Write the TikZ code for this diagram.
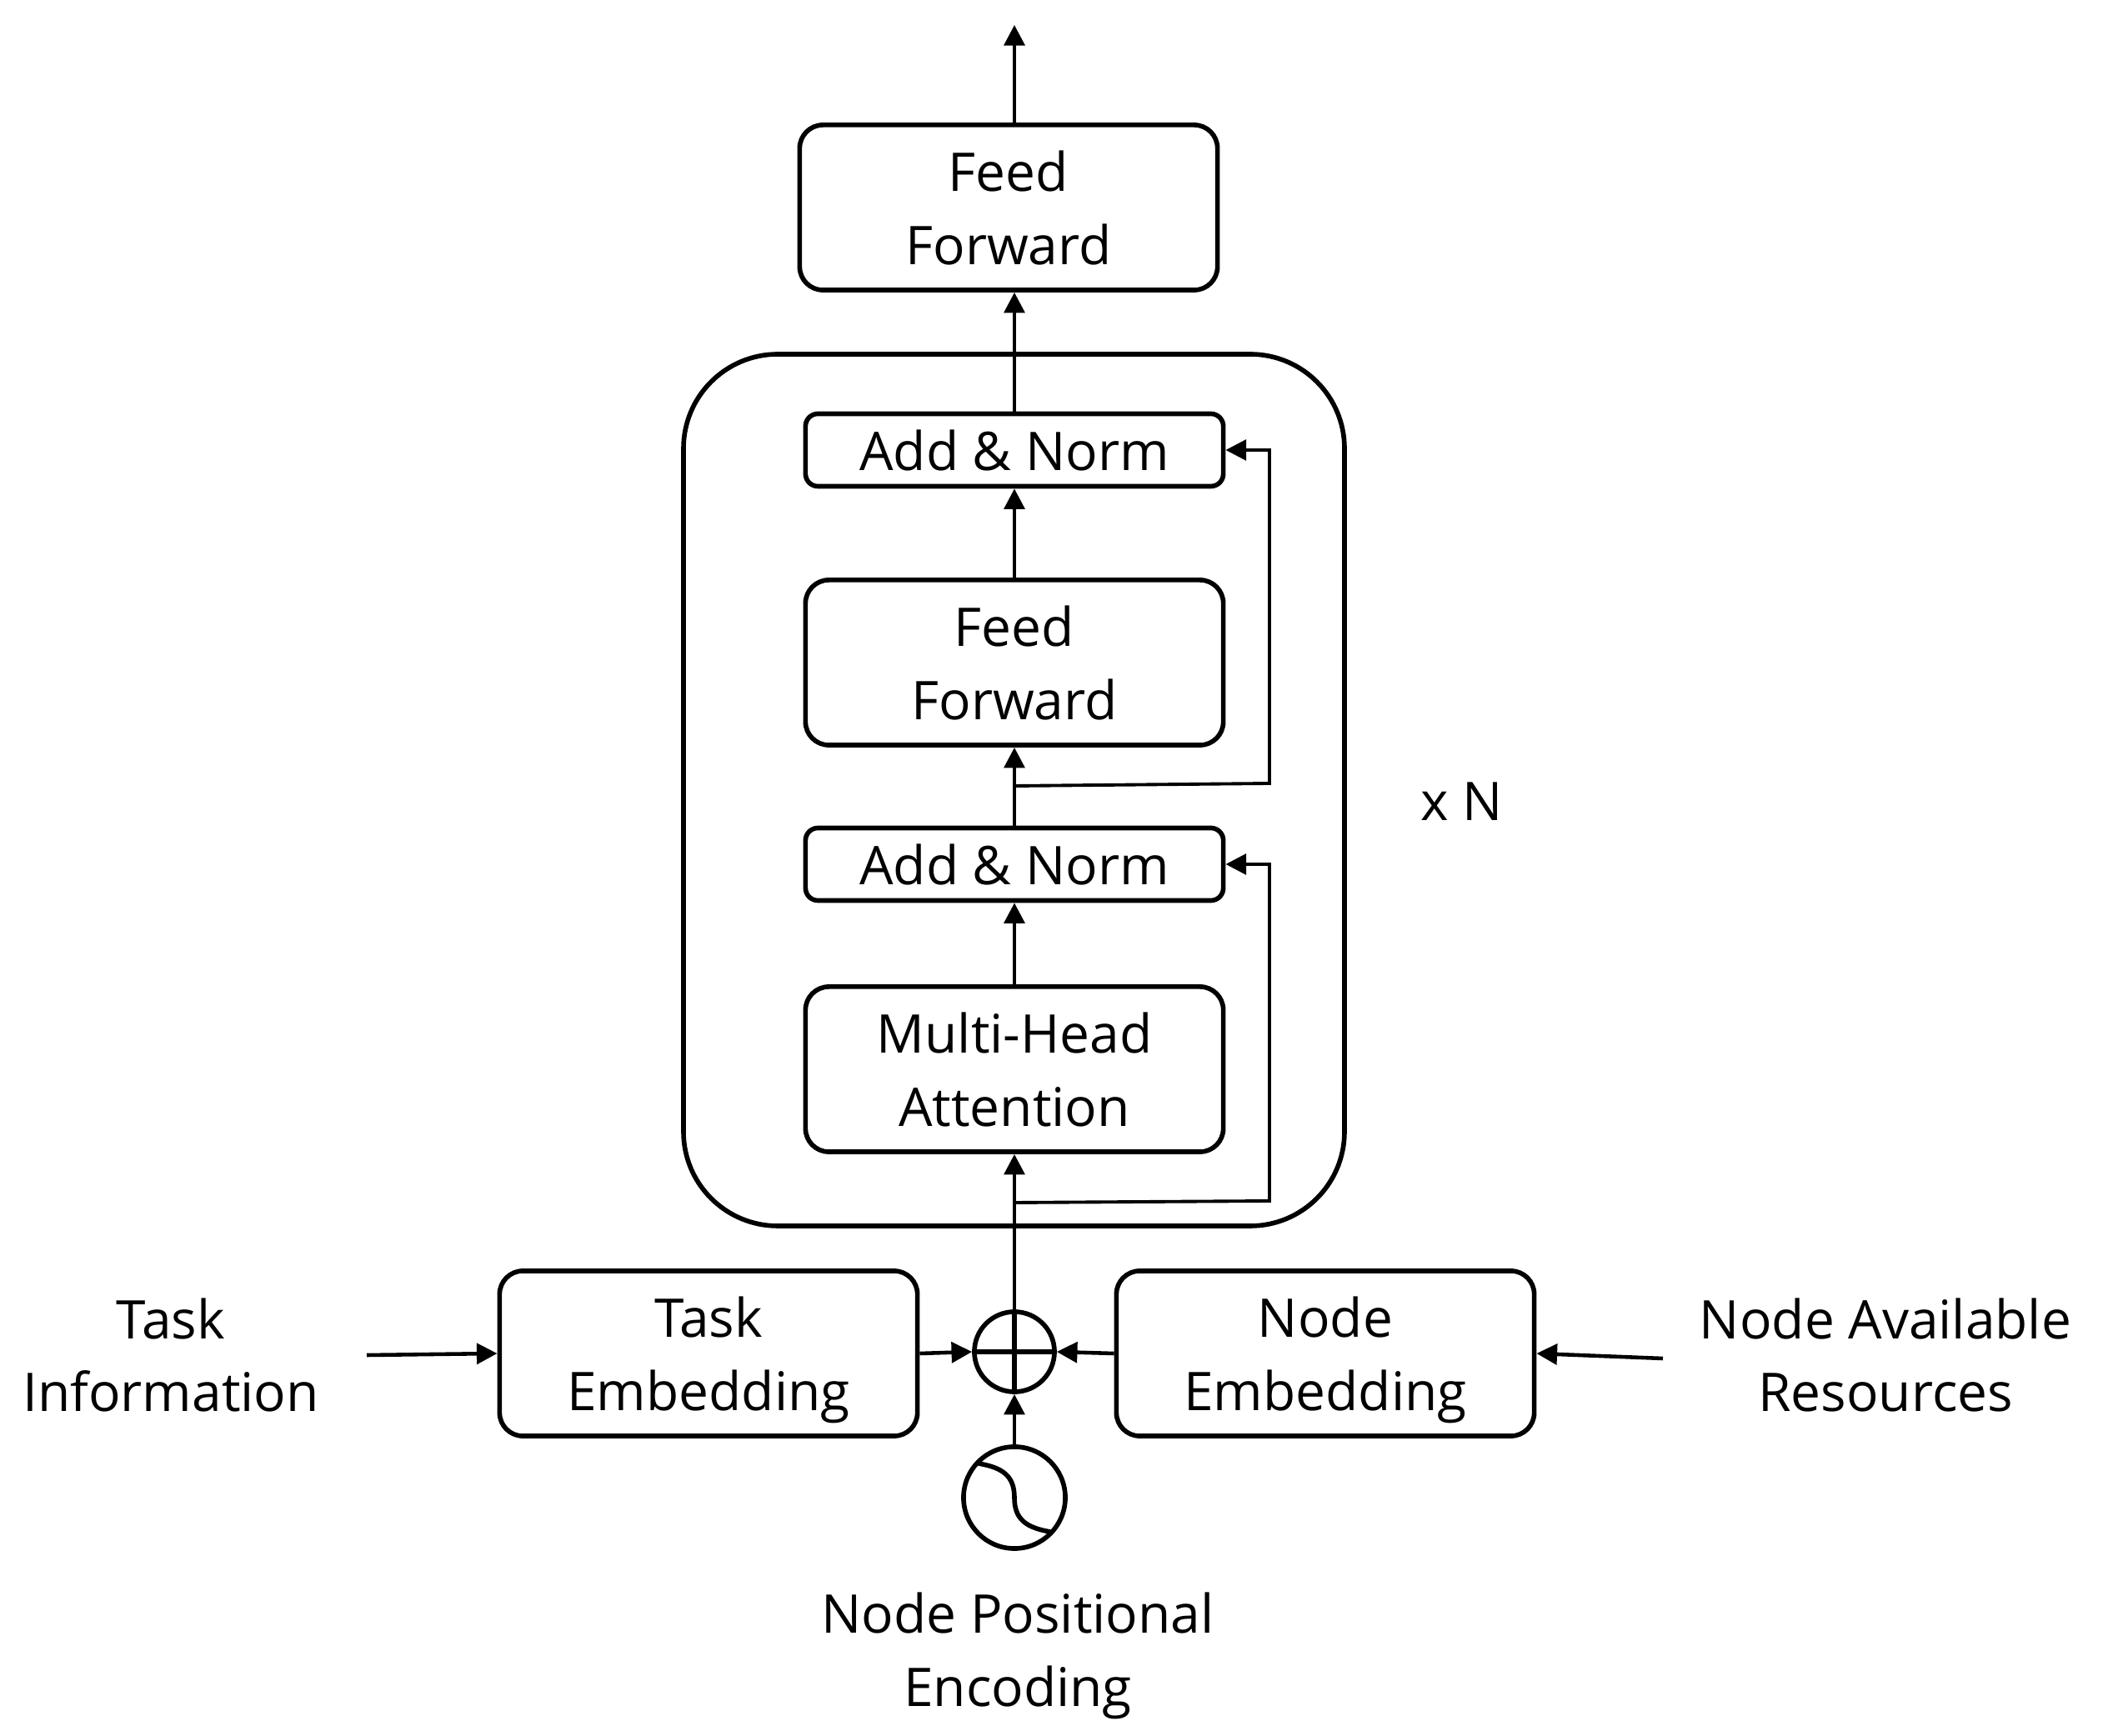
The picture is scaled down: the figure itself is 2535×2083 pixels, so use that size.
\documentclass[tikz,border=0pt]{standalone}
\usepackage{fontspec}
\setmainfont{Open Sans}
\usetikzlibrary{arrows.meta}

\tikzset{
	block/.style={draw, line width=1.6pt, rounded corners=0.28cm, minimum width=5.01cm, minimum height=1.98cm, align=center, inner sep=0pt, text depth=0pt},
	addnorm/.style={block, rounded corners=0.15cm, minimum height=0.87cm},
	flow/.style={line width=1.3pt, -{Triangle[length=7pt, width=7pt]}},
	skip/.style={line width=1.1pt, -{Triangle[length=7pt, width=7pt]}},
	label/.style={align=center, inner sep=0pt}
}

\begin{document}
\begin{tikzpicture}[x=0.01cm, y=-0.01cm, font=\fontsize{18.2}{25}\selectfont]
	\useasboundingbox (0, 0) rectangle (2535, 2083);

	% encoder stack
	\draw[line width=1.6pt, rounded corners=1.13cm] (820, 425) rectangle (1613, 1471);
	\node[addnorm] (an2) at (1217, 540) {Add \& Norm};
	\node[block] (ff) at (1217, 795) {Feed\\Forward};
	\node[addnorm] (an1) at (1217, 1037) {Add \& Norm};
	\node[block] (mha) at (1217, 1283) {Multi-Head\\Attention};
	\node[block] (ffout) at (1210, 249) {Feed\\Forward};
	\node[label] (rep) at (1754, 962) {x N};

	% inputs
	\node[block] (task) at (850, 1624) {Task\\Embedding};
	\node[block] (nodeemb) at (1590, 1624) {Node\\Embedding};
	\node[draw, circle, line width=1.6pt, minimum size=0.96cm, inner sep=0pt] (plus) at (1217, 1622) {};
	\node[draw, circle, line width=1.6pt, minimum size=1.22cm, inner sep=0pt] (pe) at (1217, 1797) {};
	\node[label] (taskinfo) at (205, 1626) {Task\\Information};
	\node[label] (res) at (2262, 1626) {Node Available\\Resources};
	\node[label] (posenc) at (1221, 1987) {Node Positional\\Encoding};

	\coordinate (tin) at (440, 1626);
	\coordinate (rin) at (1995, 1630);
	\coordinate (out) at (1217, 30);
	\coordinate (r1) at (1217, 1443);
	\coordinate (r2) at (1217, 943);

	% plus sign and sine wave
	\draw[line width=1.6pt] (plus.north) -- (plus.south) (plus.west) -- (plus.east);
	\draw[line width=1.6pt] ([shift={(-43, -41)}]pe.center) .. controls ([shift={(-14, -36)}]pe.center) and ([shift={(0, -26)}]pe.center) .. (pe.center)
		.. controls ([shift={(0, 26)}]pe.center) and ([shift={(14, 36)}]pe.center) .. ([shift={(43, 41)}]pe.center);

	% connectors
	\draw[flow] (tin) -- (task.west);
	\draw[flow] (rin) -- (nodeemb.east);
	\draw[flow] (task.east) -- (plus.west);
	\draw[flow] (nodeemb.west) -- (plus.east);
	\draw[flow] (pe.north) -- (plus.south);
	\draw[flow] (plus.north) -- (mha.south);
	\draw[flow] (mha.north) -- (an1.south);
	\draw[flow] (an1.north) -- (ff.south);
	\draw[flow] (ff.north) -- (an2.south);
	\draw[flow] (an2.north) -- (ffout.south -| an2.north);
	\draw[flow] (ffout.north -| out) -- (out);
	\draw[skip] (r1) -- (1523, 1441) |- (an1.east);
	\draw[skip] (r2) -- (1523, 940) |- (an2.east);
\end{tikzpicture}
\end{document}
